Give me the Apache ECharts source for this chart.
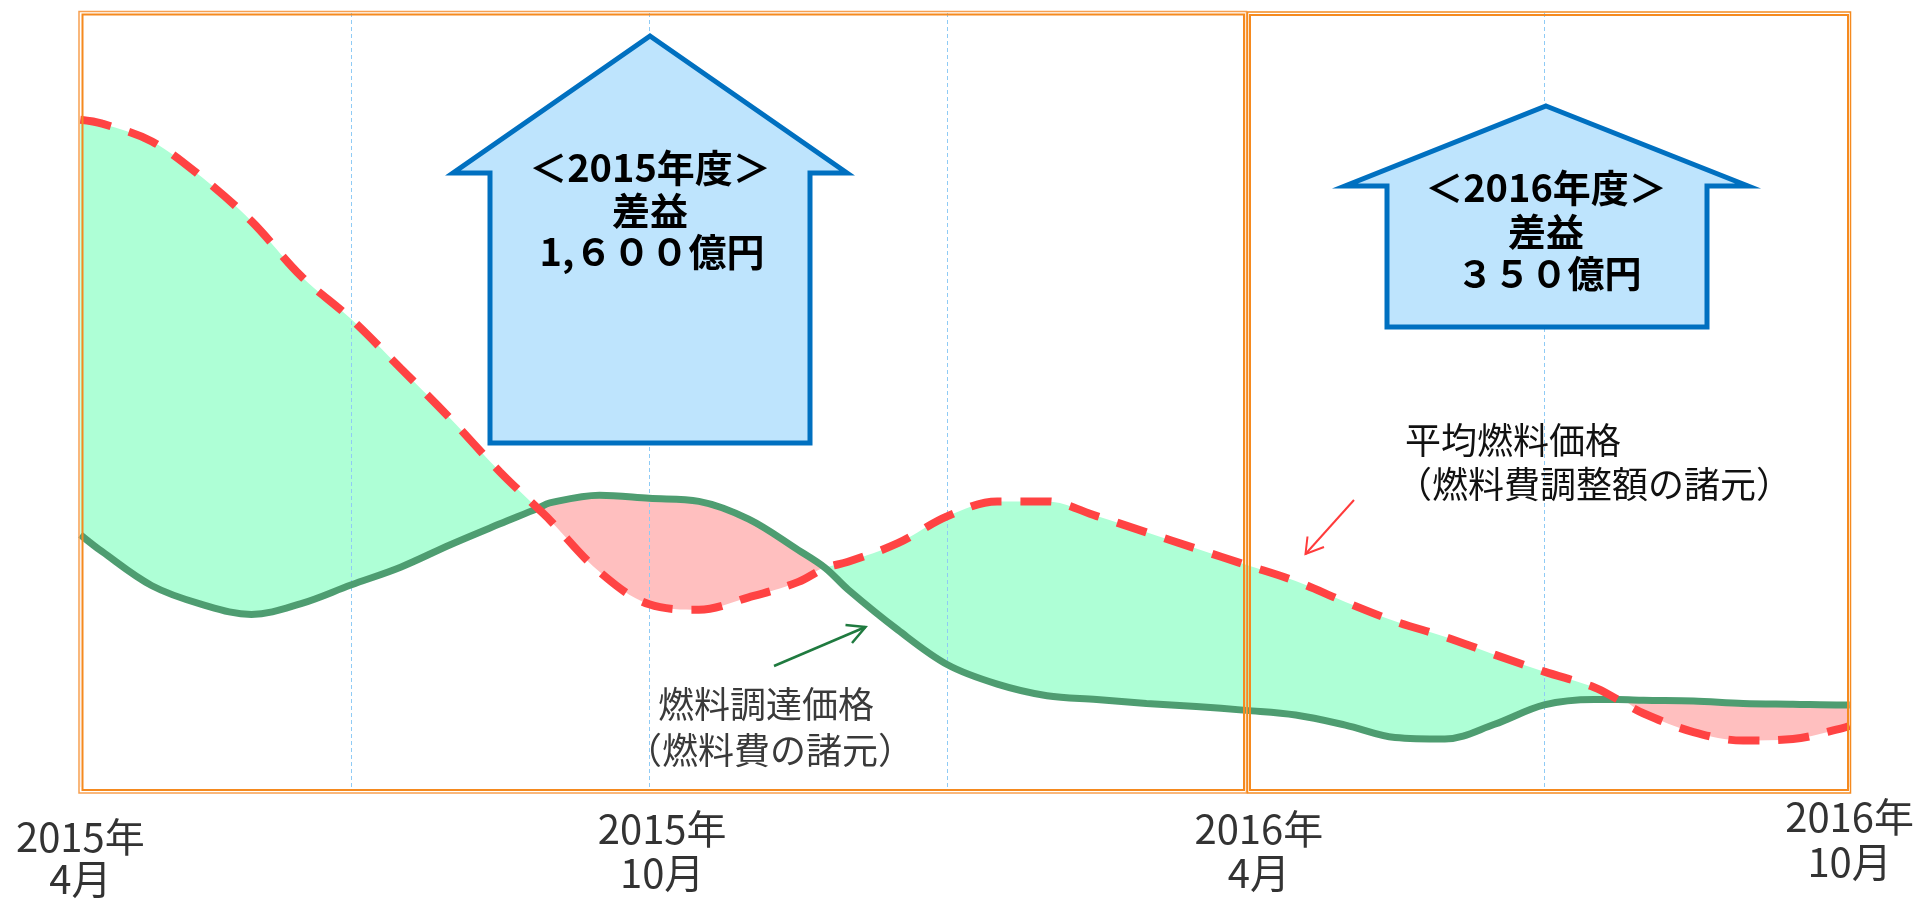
<!DOCTYPE html>
<html>
<head>
<meta charset="utf-8">
<script src="https://cdn.jsdelivr.net/npm/echarts@6/dist/echarts.min.js"></script>
<style>
html,body{margin:0;padding:0;background:#fff;}
#chart{width:1917px;height:900px;}
</style>
</head>
<body>
<div id="chart"></div>
<script>
// months counted from 2015年4月
const months = [0.28,0.5,1,1.5,2,2.5,3,3.5,4,4.5,4.88,5,5.5,6,6.5,7,7.5,7.77,8,8.5,9,9.5,10,10.5,11,11.5,12,12.5,13,13.5,14,14.5,15,15.5,15.74,16,16.5,17,17.5,18,18.07];
// 平均燃料価格（燃料費調整額の諸元） - index
const avgFuelPrice = [86.2,85.7,83.4,78.8,73.1,66.0,60.5,54.1,47.6,40.7,36.0,34.5,27.8,23.6,22.9,24.5,26.5,28.3,29.1,31.5,35.0,36.9,36.9,35.0,32.9,30.8,28.7,26.6,23.9,21.4,19.4,17.1,14.9,12.9,11.3,9.5,7.1,6.0,6.2,7.6,7.9];
// 燃料調達価格（燃料費の諸元） - index
const procurePrice = [32.6,30.4,26.0,23.6,22.3,23.7,26.1,28.4,31.3,34.0,36.0,36.7,37.7,37.3,36.9,34.6,30.6,28.3,25.5,20.3,15.8,13.3,11.8,11.3,10.8,10.4,9.9,9.3,8.0,6.4,6.2,8.1,10.6,11.3,11.3,11.2,11.1,10.8,10.7,10.6,10.6];
const tickValues = [0.28, 6.13, 12.13, 18.07];
const tickLabels = ['2015年\n4月', '2015年\n10月', '2016年\n4月', '2016年\n10月'];
const gridMonths = [3, 6, 9, 12, 15];

const pair = (arr) => months.map((m, i) => [m, arr[i]]);
const lowerData = months.map((m, i) => [m, Math.min(avgFuelPrice[i], procurePrice[i])]);

const chart = echarts.init(document.getElementById('chart'));
const JP = '"Noto Sans CJK JP", "Noto Sans", sans-serif';
const SM = 0.35;

function arrowShape(pts, z) {
  return {type:'polygon', z:z, shape:{points:pts},
    style:{fill:'#BEE4FD', stroke:'#0070C0', lineWidth:5, lineJoin:'miter'}};
}
function txt(x, y, t, font, color, align) {
  return {type:'text', z:120, x:x, y:y,
    style:{text:t, font:font, fill:color, textAlign:align||'center', textVerticalAlign:'middle'}};
}
const hidden = {width:0, opacity:0};
function labelFor(v){
  for (let i=0;i<tickValues.length;i++){ if (Math.abs(tickValues[i]-v)<0.01) return tickLabels[i]; }
  return '';
}
function monthAxis(values, margin, lineHeight){
  return {type:'value', position:'bottom', min:0, max:18.1,
    axisLine:{show:false}, axisTick:{show:false}, splitLine:{show:false},
    axisLabel:{customValues:values, showMinLabel:true, showMaxLabel:true, formatter:labelFor,
      color:'#333', fontSize:40, lineHeight:lineHeight, margin:margin, fontFamily:JP}};
}

const option = {
  animation:false,
  grid:{left:52.5, right:63.5, top:13, bottom:110},
  xAxis:[
    monthAxis([tickValues[1], tickValues[2]], 20, 44),
    monthAxis([tickValues[0]], 29, 42),
    monthAxis([tickValues[3]], 7, 45)
  ],
  yAxis:{type:'value', min:0, max:100, show:false},
  series:[
    // fill under 平均燃料価格 (mint), then under 燃料調達価格 (pink), then mask below the lower of the two
    {name:'差益', type:'line', data:pair(avgFuelPrice), smooth:SM, symbol:'none', silent:true,
      lineStyle:hidden, areaStyle:{color:'#AEFFD6', opacity:1}, z:1},
    {name:'差損', type:'line', data:pair(procurePrice), smooth:SM, symbol:'none', silent:true,
      lineStyle:hidden, areaStyle:{color:'#FFBFBF', opacity:1}, z:1},
    {name:'mask', type:'line', data:lowerData, smooth:SM, symbol:'none', silent:true,
      lineStyle:hidden, areaStyle:{color:'#FFFFFF', opacity:1}, z:1},
    {name:'燃料調達価格', type:'line', data:pair(procurePrice), smooth:SM, symbol:'none',
      lineStyle:{color:'#4E9D71', width:7}, z:3,
      markLine:{silent:true, symbol:'none', label:{show:false}, z:2,
        lineStyle:{color:'#8FCBF5', type:[4,3], width:1},
        data:gridMonths.map(m => ({xAxis:m}))}},
    {name:'平均燃料価格', type:'line', data:pair(avgFuelPrice), smooth:SM, symbol:'none',
      lineStyle:{color:'#FF4343', width:8, type:[31,19], cap:'butt'}, z:4}
  ],
  graphic:[
    // fiscal-year frames (double orange lines)
    {type:'rect', z:110, shape:{x:79, y:11.5, width:1167.5, height:781.5}, style:{fill:'none', stroke:'#F7A050', lineWidth:1.5}},
    {type:'rect', z:110, shape:{x:82.5, y:14.5, width:1161.5, height:775.5}, style:{fill:'none', stroke:'#F58A1F', lineWidth:2}},
    {type:'rect', z:110, shape:{x:1247.5, y:12, width:603, height:781}, style:{fill:'none', stroke:'#F58A1F', lineWidth:1.5}},
    {type:'rect', z:110, shape:{x:1250, y:15, width:598, height:775}, style:{fill:'none', stroke:'#F58A1F', lineWidth:2}},
    // up arrows
    arrowShape([[650,36],[847,173],[810,173],[810,443],[490,443],[490,173],[453,173]], 115),
    arrowShape([[1546,106],[1748,186],[1707,186],[1707,327],[1387,327],[1387,186],[1345,186]], 115),
    txt(650,168,'＜2015年度＞','bold 38px '+JP,'#000'),
    txt(650,211,'差益','bold 38px '+JP,'#000'),
    txt(652,252,'1,６００億円','bold 38px '+JP,'#000'),
    txt(1546,188,'＜2016年度＞','bold 38px '+JP,'#000'),
    txt(1546,232,'差益','bold 38px '+JP,'#000'),
    txt(1549,274,'３５０億円','bold 37px '+JP,'#000'),
    // series annotations
    txt(1405,440,'平均燃料価格','36px '+JP,'#111','left'),
    txt(1396,484,'（燃料費調整額の諸元）','36px '+JP,'#111','left'),
    txt(766,704,'燃料調達価格','36px '+JP,'#3a3a3a'),
    txt(770,750,'（燃料費の諸元）','36px '+JP,'#3a3a3a'),
    // pointer arrows
    {type:'polyline', z:120, shape:{points:[[1354,500],[1305.5,554]]}, style:{stroke:'#FF3B3B', lineWidth:2, fill:'none'}},
    {type:'polyline', z:120, shape:{points:[[1307.5,536.5],[1305.5,554],[1324,547]]}, style:{stroke:'#FF3B3B', lineWidth:2, fill:'none'}},
    {type:'polyline', z:120, shape:{points:[[774,666],[865.5,627]]}, style:{stroke:'#1F7A3F', lineWidth:2.5, fill:'none'}},
    {type:'polyline', z:120, shape:{points:[[845.5,625],[865.5,627],[852,643]]}, style:{stroke:'#1F7A3F', lineWidth:2.5, fill:'none'}}
  ]
};
chart.setOption(option);
</script>
</body>
</html>
